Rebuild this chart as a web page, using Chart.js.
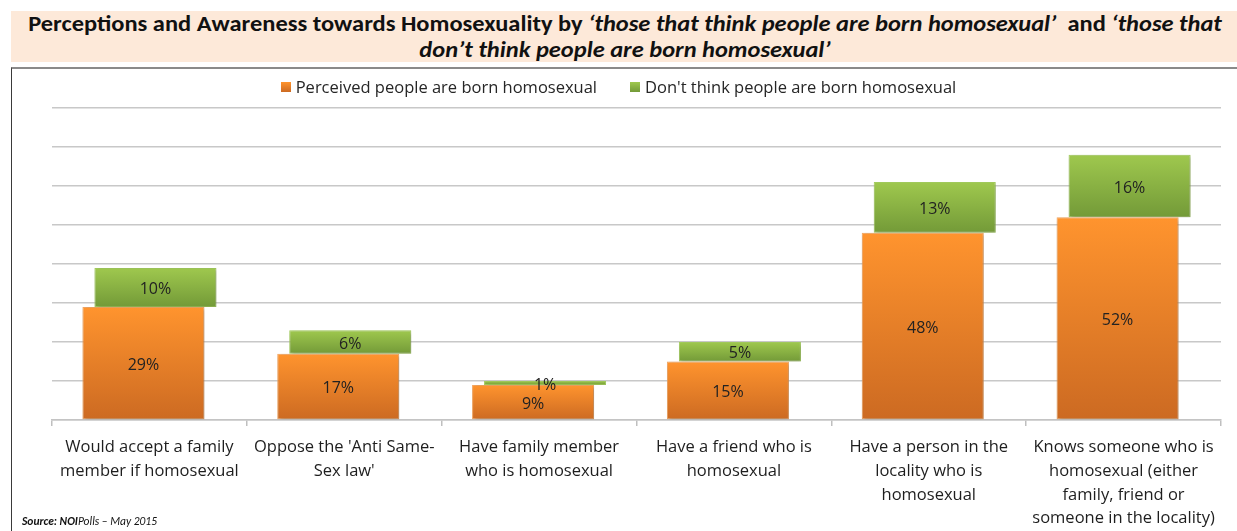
<!DOCTYPE html>
<html>
<head>
<meta charset="utf-8">
<script src="https://cdn.jsdelivr.net/npm/chart.js@4"></script>
<style>
  html, body { margin: 0; padding: 0; background: #fff; }
  body { width: 1237px; height: 531px; position: relative; overflow: hidden; font-family: "Open Sans", "Liberation Sans", sans-serif; }
  #titleBand { position: absolute; left: 11px; top: 11px; width: 1226px; height: 51px; background: #fde9d9; }
  #title { position: absolute; left: 0; top: 10px; width: 1250px; text-align: center; font-family: Carlito, "Liberation Sans Narrow", "DejaVu Sans Condensed", sans-serif; font-weight: bold; font-size: 23px; line-height: 26px; color: #111; transform-origin: 625px 0; white-space: nowrap; }
  #title .ln { display: inline-block; }
  #frame { position: absolute; left: 11px; top: 67px; width: 1226px; height: 470px; border-top: 2px solid #8a8a8a; border-left: 1.5px solid #3a3a3a; }
  #legend { position: absolute; left: 0; top: 75px; width: 1237px; display: flex; justify-content: center; gap: 33px; font-size: 16.5px; color: #262626; padding-left: 0; box-sizing: border-box; }
  #legend .item { display: flex; align-items: center; }
  #legend .box { width: 10px; height: 10px; margin-right: 5px; }
  #wrap { position: absolute; left: 0; top: 66px; width: 1237px; height: 465px; }
  #source { position: absolute; left: 22px; top: 514px; font-family: Carlito, "Open Sans", sans-serif; font-size: 11.5px; font-style: italic; color: #111; }
</style>
</head>
<body>
<div id="titleBand"></div>
<div id="title"><span class="ln" id="t1">Perceptions and Awareness towards Homosexuality by <i>‘those that think people are born homosexual’</i>&nbsp; and <i>‘those that</i></span><br><span class="ln"><i>don’t think people are born homosexual’</i></span></div>
<div id="frame"></div>
<div id="wrap"><canvas id="chart" width="1237" height="465"></canvas></div>
<div id="legend"></div>
<div id="source"><b>Source: NOI</b>Polls – May 2015</div>
<script>
// Category labels, one array per wrapped line group
const categories = [
  ["Would accept a family", "member if homosexual"],
  ["Oppose the 'Anti Same-", "Sex law'"],
  ["Have family member", "who is homosexual"],
  ["Have a friend who is", "homosexual"],
  ["Have a person in the", "locality who is", "homosexual"],
  ["Knows someone who is", "homosexual (either", "family, friend or", "someone in the locality)"]
];
const seriesNames = ["Perceived people are born homosexual", "Don't think people are born homosexual"];
const bornValues = [29, 17, 9, 15, 48, 52];
const notBornValues = [10, 6, 1, 5, 13, 16];
const yTicks = [0, 10, 20, 30, 40, 50, 60, 70, 80];

// Fit the condensed title to its band width
(function fitTitle() {
  const t = document.getElementById('title');
  const w = document.getElementById('t1').offsetWidth;
  const s = 1194 / w;
  t.style.transform = 'scaleX(' + s + ')';
})();

const palettes = [
  { top: '#ff942e', bottom: '#cc6a22', border: '#f6a862' },
  { top: '#9fc84e', bottom: '#739a38', border: '#a5cf5e' }
];

// Legend built from the series names
const legendEl = document.getElementById('legend');
seriesNames.forEach((name, i) => {
  const item = document.createElement('div');
  item.className = 'item';
  const box = document.createElement('span');
  box.className = 'box';
  box.style.background = 'linear-gradient(' + palettes[i].top + ',' + palettes[i].bottom + ')';
  const txt = document.createElement('span');
  txt.textContent = name;
  item.appendChild(box); item.appendChild(txt);
  legendEl.appendChild(item);
});

// Floating ranges: the second series sits on top of the first
const bornRanges = bornValues.map(v => [0, v]);
const notBornRanges = notBornValues.map((v, i) => [bornValues[i], bornValues[i] + v]);

function barGradient(p) {
  return (ctx) => {
    const chart = ctx.chart;
    if (!chart.chartArea || !ctx.raw) return p.top;
    const y = chart.scales.y;
    const top = y.getPixelForValue(ctx.raw[1]);
    const bot = y.getPixelForValue(ctx.raw[0]);
    const g = chart.ctx.createLinearGradient(0, top, 0, bot);
    g.addColorStop(0, p.top);
    g.addColorStop(1, p.bottom);
    return g;
  };
}

const barShadow = {
  id: 'barShadow',
  beforeDatasetsDraw(chart) {
    const c = chart.ctx;
    c.save();
    c.shadowColor = 'rgba(0,0,0,0.28)';
    c.shadowBlur = 4;
    c.shadowOffsetX = 1.5;
    c.shadowOffsetY = 1.5;
  },
  afterDatasetsDraw(chart) { chart.ctx.restore(); }
};

const valueLabels = {
  id: 'valueLabels',
  afterDatasetsDraw(chart) {
    const c = chart.ctx;
    const sources = [bornValues, notBornValues];
    c.save();
    c.font = '16px "Open Sans", sans-serif';
    c.fillStyle = '#222';
    c.textAlign = 'center';
    c.textBaseline = 'middle';
    chart.data.datasets.forEach((ds, di) => {
      const meta = chart.getDatasetMeta(di);
      meta.data.forEach((bar, i) => {
        const cy = (bar.y + bar.base) / 2;
        c.fillText(sources[di][i] + '%', bar.x, cy + 2);
      });
    });
    c.restore();
  }
};

new Chart(document.getElementById('chart'), {
  type: 'bar',
  data: {
    labels: categories,
    datasets: [
      {
        label: seriesNames[0],
        data: bornRanges,
        backgroundColor: barGradient(palettes[0]),
        borderColor: palettes[0].border,
        borderWidth: 1,
        borderSkipped: false
      },
      {
        label: seriesNames[1],
        data: notBornRanges,
        backgroundColor: barGradient(palettes[1]),
        borderColor: palettes[1].border,
        borderWidth: 1,
        borderSkipped: false
      }
    ]
  },
  options: {
    responsive: false,
    animation: false,
    devicePixelRatio: 1,
    layout: { padding: { left: 52, right: 16, top: 42, bottom: 0 } },
    datasets: {
      bar: { categoryPercentage: 0.1232, barPercentage: 10.17 }
    },
    plugins: {
      legend: { display: false },
      tooltip: { enabled: false }
    },
    scales: {
      x: {
        grid: { offset: true, drawOnChartArea: false, drawTicks: true, tickLength: 6, color: '#bfbfbf', lineWidth: 1.5 },
        border: { display: true, color: '#c4c4c4', width: 1.5 },
        ticks: {
          color: '#1e1e1e',
          font: { family: '"Open Sans", sans-serif', size: 16.5, lineHeight: 1.45 },
          padding: 9,
          maxRotation: 0,
          autoSkip: false
        },
        afterFit(scale) { scale.height = 111; }
      },
      y: {
        min: 0,
        max: 80,
        afterBuildTicks(scale) { scale.ticks = yTicks.map(v => ({ value: v })); },
        grid: { color: '#c8c8c8', lineWidth: 1.5, drawTicks: false },
        border: { display: false },
        ticks: { display: false },
        afterFit(scale) { scale.width = 0; }
      }
    }
  },
  plugins: [barShadow, valueLabels]
});
</script>
</body>
</html>
